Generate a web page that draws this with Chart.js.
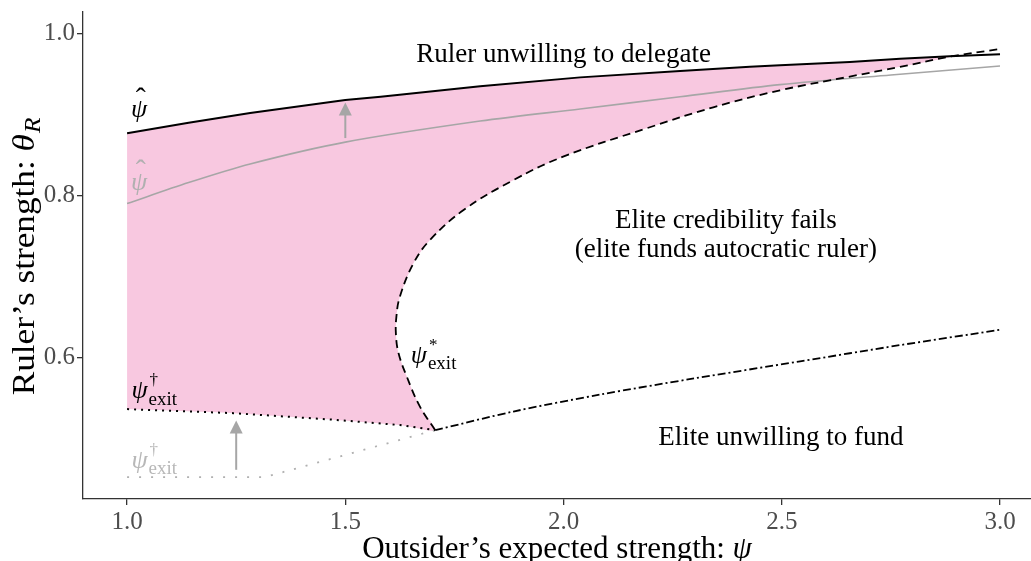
<!DOCTYPE html>
<html>
<head>
<meta charset="utf-8">
<script src="https://cdn.jsdelivr.net/npm/chart.js@4.4.1/dist/chart.umd.min.js"></script>
<style>
  html, body { margin: 0; padding: 0; background: #ffffff; }
  #wrap { width: 1031px; height: 561px; position: relative; }
</style>
</head>
<body>
<div id="wrap"><canvas id="chart" width="1031" height="561"></canvas></div>
<script>
// ---- axis ticks ----
const xTicks = [1.0, 1.5, 2.0, 2.5, 3.0];
const yTicks = [0.6, 0.8, 1.0];

// ---- upper threshold psi-hat (with delegation) ----
const psiHatX = [1.0, 1.141, 1.282, 1.5, 1.581, 1.809, 2.038, 2.267, 2.427, 2.496, 2.656, 2.771, 2.885, 3.0];
const psiHatY = [0.877, 0.890, 0.902, 0.918, 0.922, 0.935, 0.946, 0.954, 0.959, 0.961, 0.965, 0.969, 0.972, 0.9745];

// ---- baseline psi-hat (without delegation) ----
const psiHatBaseX = [1.0, 1.141, 1.282, 1.5, 1.809, 2.038, 2.267, 2.496, 2.75, 3.0];
const psiHatBaseY = [0.790, 0.816, 0.839, 0.866, 0.892, 0.907, 0.922, 0.937, 0.949, 0.960];

// ---- elite credibility boundary psi*_exit (traced from the kink upward) ----
const psiStarX = [1.706, 1.671, 1.641, 1.622, 1.616, 1.617, 1.625, 1.656, 1.694, 1.771, 1.885, 1.999, 2.19, 2.343, 2.496, 2.656, 2.771, 2.885, 3.0];
const psiStarY = [0.510, 0.539, 0.576, 0.605, 0.628, 0.650, 0.675, 0.716, 0.745, 0.782, 0.819, 0.848, 0.883, 0.909, 0.930, 0.947, 0.959, 0.9716, 0.981];

// ---- exit threshold psi-dagger (with delegation) ----
const psiDagX = [1.0, 1.243, 1.47, 1.625, 1.706];
const psiDagY = [0.536, 0.531, 0.523, 0.5163, 0.510];

// ---- baseline psi-dagger (without delegation) ----
const psiDagBaseX = [1.0, 1.316, 1.511, 1.706];
const psiDagBaseY = [0.452, 0.452, 0.481, 0.510];

// ---- elite funding threshold ----
const fundX = [1.706, 1.885, 2.084, 2.3, 2.542, 2.77, 3.0];
const fundY = [0.510, 0.533, 0.554, 0.574, 0.595, 0.615, 0.634];

// ---- shift arrows (psi, from, to) ----
const arrowX = [1.5, 1.25];
const arrowFrom = [0.871, 0.461];
const arrowTo = [0.915, 0.522];

const SERIF = "'Liberation Serif', 'Times New Roman', serif";
const PINK = '#F8C8E0';

const pts = (xs, ys) => xs.map((v, i) => ({ x: v, y: ys[i] }));

// Delegation region: along psi-dagger to the kink, up psi*_exit to where it
// meets psi-hat, then back along psi-hat to psi = 1.
const crossX = 2.885;
const regionPts = [].concat(
  pts(psiDagX, psiDagY),
  pts(psiStarX, psiStarY).slice(1).filter(p => p.x <= crossX),
  pts(psiHatX, psiHatY).filter(p => p.x < crossX).reverse()
);

const regionLabels = [
  { lines: ['Ruler unwilling to delegate'], x: 2.0, y: 0.9737 },
  { lines: ['Elite credibility fails', '(elite funds autocratic ruler)'], x: 2.372, y: 0.7506 },
  { lines: ['Elite unwilling to fund'], x: 2.498, y: 0.500 }
];

const mathLabels = [
  { x: 1.009, y: 0.897, hat: true, color: '#000000' },
  { x: 1.009, y: 0.807, hat: true, color: '#b0b0b0' },
  { x: 1.010, y: 0.5497, sup: '\u2020', sub: 'exit', color: '#000000' },
  { x: 1.010, y: 0.4633, sup: '\u2020', sub: 'exit', color: '#b8b8b8' },
  { x: 1.650, y: 0.593, sup: '*', sub: 'exit', color: '#000000' }
];

function drawMath(ctx, px, py, m) {
  const size = 26;
  ctx.fillStyle = m.color;
  ctx.textAlign = 'left';
  ctx.textBaseline = 'alphabetic';
  ctx.font = `italic ${size}px ${SERIF}`;
  ctx.fillText('\u03C8', px, py);
  const w = ctx.measureText('\u03C8').width;
  if (m.hat) {
    ctx.font = `${size + 4}px ${SERIF}`;
    ctx.textAlign = 'center';
    ctx.fillText('\u02C6', px + w * 0.6, py - size * 0.36);
    ctx.textAlign = 'left';
  }
  if (m.sup) {
    ctx.font = `${Math.round(size * 0.66)}px ${SERIF}`;
    ctx.fillText(m.sup, px + w + 2, py - size * 0.5);
  }
  if (m.sub) {
    ctx.font = `${Math.round(size * 0.72)}px ${SERIF}`;
    ctx.fillText(m.sub, px + w + 1, py + size * 0.25);
  }
}

const annotationPlugin = {
  id: 'phaseAnnotations',
  afterDatasetsDraw(chart) {
    const { ctx, scales: { x, y } } = chart;
    ctx.save();
    // shift arrows
    ctx.strokeStyle = '#a6a6a6';
    ctx.fillStyle = '#a6a6a6';
    ctx.lineWidth = 2;
    arrowX.forEach((ax, i) => {
      const px = x.getPixelForValue(ax);
      const y0 = y.getPixelForValue(arrowFrom[i]);
      const y1 = y.getPixelForValue(arrowTo[i]);
      const head = 13, half = 6.5;
      ctx.beginPath();
      ctx.moveTo(px, y0);
      ctx.lineTo(px, y1 + head - 1);
      ctx.stroke();
      ctx.beginPath();
      ctx.moveTo(px, y1);
      ctx.lineTo(px - half, y1 + head);
      ctx.lineTo(px + half, y1 + head);
      ctx.closePath();
      ctx.fill();
    });
    // region labels
    ctx.fillStyle = '#000000';
    ctx.font = `27px ${SERIF}`;
    ctx.textAlign = 'center';
    ctx.textBaseline = 'middle';
    const lh = 29;
    regionLabels.forEach(l => {
      const px = x.getPixelForValue(l.x);
      const py = y.getPixelForValue(l.y);
      const top = py - (l.lines.length - 1) * lh / 2;
      l.lines.forEach((t, k) => ctx.fillText(t, px, top + k * lh));
    });
    // curve labels
    mathLabels.forEach(m => drawMath(ctx, x.getPixelForValue(m.x), y.getPixelForValue(m.y), m));
    ctx.restore();
  },
  afterDraw(chart) {
    const { ctx, chartArea: a } = chart;
    ctx.save();
    ctx.fillStyle = '#000000';
    ctx.textBaseline = 'alphabetic';
    // x axis title
    const up = `31px ${SERIF}`, it = `italic 31px ${SERIF}`;
    const xa = 'Outsider\u2019s expected strength: ';
    ctx.font = up; const w1 = ctx.measureText(xa).width;
    ctx.font = it; const w2 = ctx.measureText('\u03C8').width;
    const sx = (a.left + a.right) / 2 - (w1 + w2) / 2;
    ctx.textAlign = 'left';
    ctx.font = up; ctx.fillText(xa, sx, 558);
    ctx.font = it; ctx.fillText('\u03C8', sx + w1, 558);
    // y axis title
    const yu = `32px ${SERIF}`, yi = `italic 32px ${SERIF}`, ys = `italic 23px ${SERIF}`;
    ctx.translate(34, 257);
    ctx.rotate(-Math.PI / 2);
    ctx.scale(1.1, 1);
    const ya = 'Ruler\u2019s strength: ';
    ctx.font = yu; const v1 = ctx.measureText(ya).width;
    ctx.font = yi; const v2 = ctx.measureText('\u03B8').width;
    ctx.font = ys; const v3 = ctx.measureText('R').width;
    const sy = -(v1 + v2 + v3) / 2;
    ctx.font = yu; ctx.fillText(ya, sy, 0);
    ctx.font = yi; ctx.fillText('\u03B8', sy + v1, 0);
    ctx.font = ys; ctx.fillText('R', sy + v1 + v2 + 1, 6);
    ctx.restore();
  }
};

const lineDs = (data, color, width, dash, extra) => Object.assign({
  data, showLine: true, borderColor: color, borderWidth: width, borderDash: dash,
  pointRadius: 0, pointHoverRadius: 0, fill: false, tension: 0
}, extra || {});

const axisCommon = {
  type: 'linear',
  border: { display: true, color: '#333333', width: 1.3 },
  grid: { display: true, drawOnChartArea: false, drawTicks: true, tickLength: 6, color: '#333333', lineWidth: 1.3 },
  ticks: { font: { family: SERIF, size: 25 }, color: '#4d4d4d', padding: 2,
           callback: v => Number(v).toFixed(1) },
  title: { display: false }
};

new Chart(document.getElementById('chart'), {
  type: 'scatter',
  data: {
    datasets: [
      lineDs(pts(psiHatX, psiHatY), '#000000', 2, []),
      lineDs(pts(psiStarX, psiStarY), '#000000', 1.8, [8, 5], { tension: 0.4 }),
      lineDs(pts(fundX, fundY), '#000000', 1.8, [8, 3, 2, 3], { tension: 0.3 }),
      lineDs(pts(psiDagX, psiDagY), '#000000', 2, [2, 5]),
      lineDs(pts(psiDagBaseX, psiDagBaseY), '#b0b0b0', 1.8, [2, 10]),
      lineDs(pts(psiHatBaseX, psiHatBaseY), '#a6a6a6', 1.6, [], { tension: 0.3 }),
      Object.assign(lineDs(regionPts, 'rgba(0,0,0,0)', 0, [], { tension: 0.25 }),
        { fill: 'shape', backgroundColor: PINK, order: 10 })
    ]
  },
  options: {
    responsive: false,
    animation: false,
    devicePixelRatio: 1,
    layout: { padding: { top: 12, left: 0, right: 0, bottom: 0 } },
    plugins: { legend: { display: false }, tooltip: { enabled: false }, filler: { propagate: false } },
    scales: {
      x: Object.assign({}, axisCommon, {
        min: 0.899, max: 3.071,
        afterBuildTicks: s => { s.ticks = xTicks.map(v => ({ value: v })); },
        afterFit: s => { s.height = 62; s.paddingLeft = 0; s.paddingRight = 0; }
      }),
      y: Object.assign({}, axisCommon, {
        min: 0.4249, max: 1.0268,
        afterBuildTicks: s => { s.ticks = yTicks.map(v => ({ value: v })); },
        afterFit: s => { s.width = 83; s.paddingTop = 0; s.paddingBottom = 0; }
      })
    }
  },
  plugins: [annotationPlugin]
});
</script>
</body>
</html>
